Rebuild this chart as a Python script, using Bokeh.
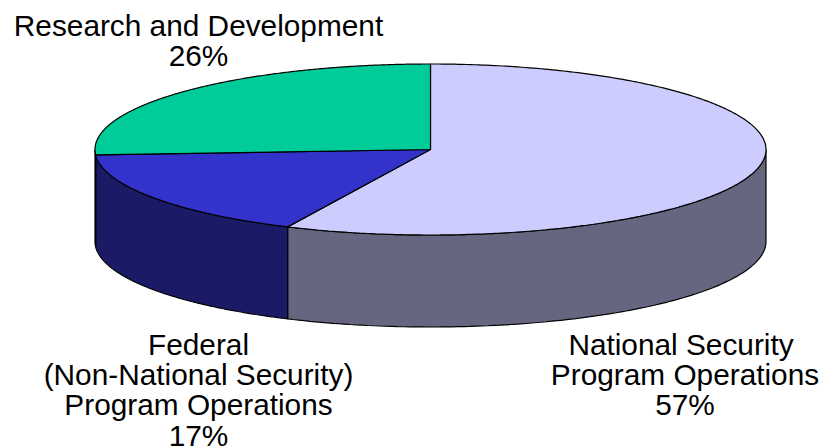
import numpy as np
from bokeh.plotting import figure
from bokeh.embed import file_html
from bokeh.resources import INLINE
from bokeh.core.properties import value
from bokeh.models import Range1d

categories = ["National Security\nProgram Operations", "Federal\n(Non-National Security)\nProgram Operations", "Research and Development"]
shares = [57, 17, 26]
top_colors = ["#CCCCFF", "#3333CC", "#00CC99"]
side_colors = ["#666680", "#1A1A66", "#00664D"]

W, H = 825, 448
CX, CY, RX, RY, DEPTH = 430, 149, 335.5, 85.5, 92

p = figure(width=W, height=H, output_backend="svg", toolbar_location=None,
           x_range=Range1d(0, W), y_range=Range1d(H, 0), min_border=0,
           outline_line_color=None, background_fill_color="white")
p.axis.visible = False
p.grid.visible = False

def pt(a):
    return CX + RX * np.sin(a), CY - RY * np.cos(a)

fr = np.cumsum([0] + shares) / sum(shares) * 2 * np.pi
for i in range(len(shares)):
    a = np.linspace(fr[i], fr[i + 1], 200)
    s = a[(a >= np.pi / 2) & (a <= 3 * np.pi / 2)]
    if len(s):
        s = np.concatenate([[max(fr[i], np.pi / 2)], s, [min(fr[i + 1], 3 * np.pi / 2)]])
        x, y = pt(s)
        p.patch(np.r_[x, x[::-1]], np.r_[y, (y + DEPTH)[::-1]],
                fill_color=side_colors[i], line_color="black", line_width=1.2)
for i in range(len(shares)):
    a = np.linspace(fr[i], fr[i + 1], 300)
    x, y = pt(a)
    p.patch(np.r_[CX, x], np.r_[CY, y], fill_color=top_colors[i], line_color="black", line_width=1.2)

label_pos = [(684.5, 343.5), (198, 343.5), (198, 25)]
for i, c in enumerate(categories):
    lines = c.split("\n") + [f"{shares[i]}%"]
    lx, ly = label_pos[i]
    for j, t in enumerate(lines):
        # the reference's "National Security" line sits a little left of its block
        dx = -4 if t == "National Security" else 0
        p.text([lx + dx], [ly + j * 30.4], text=[t], text_align="center", text_baseline="middle",
               text_font=value("Liberation Sans"), text_font_size="29.8px", text_color="black")

open("out.html", "w").write(file_html(p, INLINE))
